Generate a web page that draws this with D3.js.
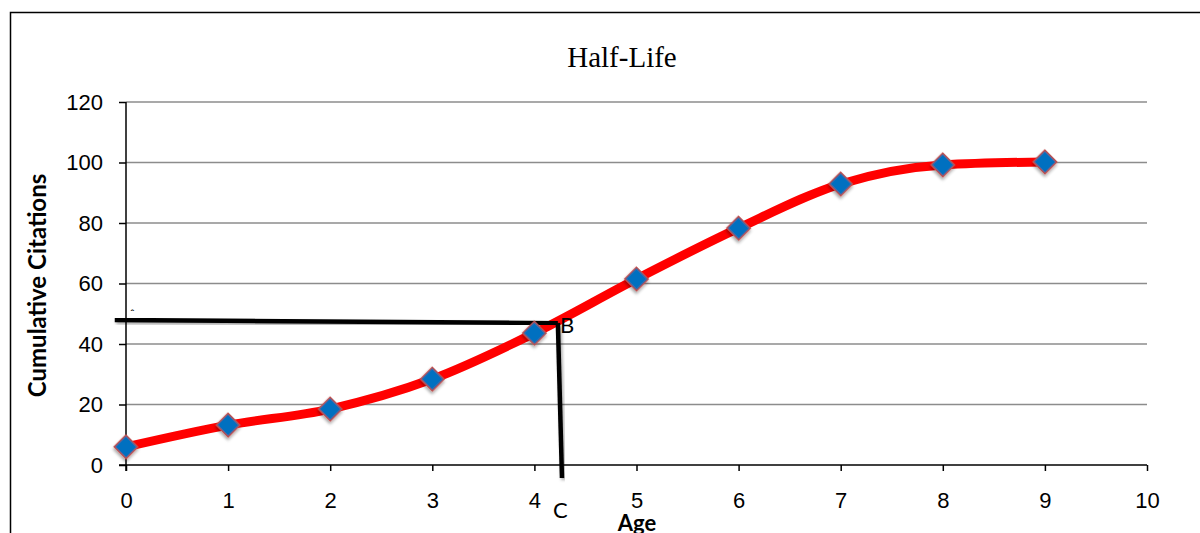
<!DOCTYPE html>
<html>
<head>
<meta charset="utf-8">
<script src="https://cdn.jsdelivr.net/npm/d3@7"></script>
<style>
  body { margin: 0; background: #fff; }
  svg { display: block; font-family: Lato, "Open Sans", sans-serif; }
</style>
</head>
<body>
<div id="chart"></div>
<script>
// data
var ages = [0, 1, 2, 3, 4, 5, 6, 7, 8, 9];
var citations = [6, 13.2, 18.5, 28.4, 43.6, 61.5, 78.3, 92.9, 99.2, 100.2];
var yTicks = [0, 20, 40, 60, 80, 100, 120];
var xTicks = [0, 1, 2, 3, 4, 5, 6, 7, 8, 9, 10];
// half-life guide lines (drawn in data units)
var guideH = [[-0.11, 47.9], [4.23, 46.9]];
var guideV = [[4.23, 46.9], [4.27, -4.3]];

var width = 1200, height = 533;
var margin = {top: 102, right: 53, bottom: 68, left: 126};
var w = width - margin.left - margin.right,
    h = height - margin.top - margin.bottom;

var svg = d3.select("#chart").append("svg")
  .attr("width", width)
  .attr("height", height);

var defs = svg.append("defs");
var f = defs.append("filter").attr("id", "shadow")
  .attr("x", "-50%").attr("y", "-50%").attr("width", "200%").attr("height", "200%");
f.append("feDropShadow").attr("dx", 1.5).attr("dy", 2).attr("stdDeviation", 1.5)
  .attr("flood-color", "#000").attr("flood-opacity", 0.35);

// outer frame
svg.append("rect")
  .attr("x", 10.5).attr("y", 12.5)
  .attr("width", 1200).attr("height", 600)
  .attr("fill", "none").attr("stroke", "#000").attr("stroke-width", 1.5);

var g = svg.append("g")
  .attr("transform", "translate(" + margin.left + "," + margin.top + ")");

var x = d3.scaleLinear().domain([0, 10]).range([0, w]);
var y = d3.scaleLinear().domain([0, 120]).range([h, 0]);

// gridlines
g.append("g").selectAll("line")
  .data(yTicks.filter(function(d) { return d > 0; }))
  .enter().append("line")
  .attr("x1", 0).attr("x2", w)
  .attr("y1", function(d) { return y(d); })
  .attr("y2", function(d) { return y(d); })
  .attr("stroke", "#8c8c8c").attr("stroke-width", 1.5);

// y axis
var yAxis = g.append("g")
  .call(d3.axisLeft(y).tickValues(yTicks).tickSize(7).tickPadding(16));
yAxis.select(".domain").remove();
yAxis.append("line").attr("x1", 0).attr("x2", 0).attr("y1", 0).attr("y2", h + 6)
  .attr("stroke", "#000").attr("stroke-width", 1.5);
yAxis.selectAll(".tick line").attr("stroke-width", 1.5);
yAxis.selectAll("text").style("font-size", "22px").attr("fill", "#000");

// x axis
var xAxis = g.append("g")
  .attr("transform", "translate(0," + h + ")")
  .call(d3.axisBottom(x).tickValues(xTicks).tickSize(6).tickPadding(21));
xAxis.select(".domain").remove();
xAxis.append("line").attr("x1", -7).attr("x2", w).attr("y1", 0).attr("y2", 0)
  .attr("stroke", "#000").attr("stroke-width", 1.5);
xAxis.selectAll(".tick line").attr("stroke-width", 1.5);
xAxis.selectAll("text").style("font-size", "22px").attr("fill", "#000");

// title
svg.append("text")
  .attr("x", 622).attr("y", 67)
  .attr("text-anchor", "middle")
  .style("font-family", "'Liberation Serif', 'Times New Roman', serif")
  .style("font-size", "29px")
  .text("Half-Life");

// axis labels
svg.append("text")
  .attr("transform", "translate(46," + (margin.top + h / 2 + 2) + ") rotate(-90)")
  .attr("text-anchor", "middle")
  .style("font-size", "24px").style("font-weight", "bold")
  .text("Cumulative Citations");

svg.append("text")
  .attr("x", 637).attr("y", 531)
  .attr("text-anchor", "middle")
  .style("font-size", "22px").style("font-weight", "bold")
  .text("Age");

// series line
var line = d3.line()
  .x(function(d, i) { return x(ages[i]); })
  .y(function(d) { return y(d); })
  .curve(d3.curveMonotoneX);

g.append("path")
  .datum(citations)
  .attr("d", line)
  .attr("fill", "none")
  .attr("stroke", "#ff0000")
  .attr("stroke-width", 9)
  .attr("stroke-linejoin", "round");

// guide lines
var guide = d3.line()
  .x(function(d) { return x(d[0]); })
  .y(function(d) { return y(d[1]); });
[guideH, guideV].forEach(function(seg) {
  g.append("path")
    .attr("d", guide(seg))
    .attr("fill", "none")
    .attr("stroke", "#000")
    .attr("stroke-width", 4.5)
    .attr("filter", "url(#shadow)");
});

// markers
g.append("g").selectAll("path")
  .data(citations)
  .enter().append("path")
  .attr("d", d3.symbol().type(d3.symbolSquare).size(280))
  .attr("transform", function(d, i) {
    return "translate(" + x(ages[i]) + "," + y(d) + ") rotate(45)";
  })
  .attr("fill", "#0070c0")
  .attr("stroke", "#c0504d")
  .attr("stroke-width", 1.5)
  .attr("filter", "url(#shadow)");

// annotation letters
g.append("text")
  .attr("x", x(4.23) + 2).attr("y", y(46.9) + 10)
  .style("font-size", "22px")
  .text("B");
g.append("text")
  .attr("x", x(4.27) - 9).attr("y", y(-4.3) + 40)
  .style("font-size", "22px")
  .text("C");
g.append("text")
  .attr("x", x(0.04)).attr("y", y(47.9) - 2)
  .style("font-size", "12px")
  .text("ˆ");
</script>
</body>
</html>
